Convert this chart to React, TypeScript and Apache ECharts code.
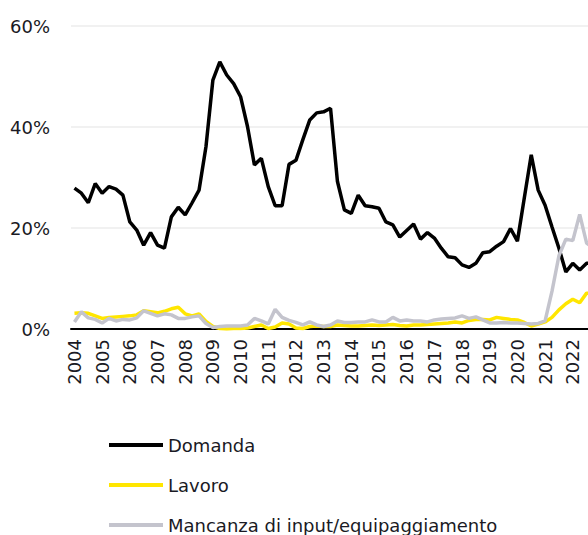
import React, { useEffect, useRef } from "react";
import * as echarts from "echarts";

const years: number[] = [];
for (let y = 2004; y <= 2022; y++) years.push(y);
const categories: string[] = [];
years.forEach((y) => ["Q1", "Q2", "Q3", "Q4"].forEach((q) => categories.push(`${y} ${q}`)));

const domanda = [
  27.9, 26.9, 25.0, 28.8, 26.9, 28.2, 27.7, 26.5, 21.2, 19.6, 16.6, 19.1, 16.6, 16.0, 22.2, 24.1,
  22.6, 25.0, 27.5, 36.1, 49.3, 52.9, 50.3, 48.6, 46.0, 40.1, 32.5, 33.8, 28.2, 24.4, 24.4, 32.6,
  33.4, 37.5, 41.4, 42.8, 43.0, 43.7, 29.2, 23.6, 22.9, 26.5, 24.4, 24.2, 23.9, 21.2, 20.6, 18.2,
  19.5, 20.8, 17.8, 19.1, 18.0, 16.0, 14.3, 14.1, 12.7, 12.2, 13.0, 15.1, 15.3, 16.4, 17.3, 19.9,
  17.4, 26.0, 34.5, 27.5, 24.5, 20.2, 16.0, 11.3, 13.0, 11.7, 13.0, 13.0,
];
const lavoro = [
  3.1, 3.2, 3.1, 2.6, 2.1, 2.3, 2.4, 2.5, 2.6, 2.8, 3.6, 3.4, 3.2, 3.5, 4.0, 4.3,
  3.0, 2.6, 3.0, 1.5, 0.5, 0.1, 0.0, 0.1, 0.1, 0.2, 0.5, 0.8, 0.1, 0.4, 1.2, 1.0,
  0.2, 0.1, 0.5, 0.6, 0.5, 0.5, 0.8, 0.7, 0.6, 0.6, 0.7, 0.8, 0.7, 0.8, 0.9, 0.7,
  0.6, 0.8, 0.8, 0.9, 1.0, 1.1, 1.2, 1.4, 1.2, 1.7, 1.9, 1.9, 1.8, 2.3, 2.1, 1.9,
  1.8, 1.3, 0.6, 1.0, 1.4, 2.3, 3.8, 5.0, 5.9, 5.2, 7.1, 7.0,
];
const mancanza = [
  1.4, 3.4, 2.2, 1.9, 1.2, 2.1, 1.6, 1.9, 1.8, 2.2, 3.6, 3.1, 2.6, 3.0, 2.8, 2.1,
  2.1, 2.4, 2.6, 1.1, 0.3, 0.5, 0.6, 0.6, 0.6, 0.8, 2.1, 1.6, 1.0, 3.9, 2.3, 1.7,
  1.3, 0.8, 1.4, 0.8, 0.5, 0.8, 1.6, 1.3, 1.3, 1.4, 1.4, 1.8, 1.4, 1.4, 2.3, 1.6,
  1.8, 1.6, 1.6, 1.4, 1.8, 2.0, 2.1, 2.2, 2.6, 2.1, 2.4, 1.8, 1.2, 1.2, 1.3, 1.2,
  1.2, 1.1, 1.0, 1.1, 1.6, 7.5, 14.5, 17.8, 17.5, 22.7, 17.0, 16.0,
];
const seriesNames = ["Domanda", "Lavoro", "Mancanza di input/equipaggiamento"];
const seriesColors = ["#000000", "#FFE600", "#C4C4CD"];
const yTicks = [0, 20, 40, 60];

const FONT = "DejaVu Sans";

export default function App() {
  const ref = useRef<HTMLDivElement>(null);
  useEffect(() => {
    if (!ref.current) return;
    const chart = echarts.init(ref.current, undefined, { renderer: "svg" });
    const data = [domanda, lavoro, mancanza];
    chart.setOption({
      animation: false,
      grid: { left: 71, top: 26, right: 23, bottom: 231, containLabel: false },
      legend: {
        orient: "vertical",
        left: 109,
        top: 435,
        padding: 0,
        icon: "rect",
        itemWidth: 54,
        itemHeight: 4,
        itemGap: 20,
        textStyle: { fontFamily: FONT, fontSize: 18, color: "#1a1a24", lineHeight: 20 },
        data: seriesNames,
      },
      xAxis: {
        type: "category",
        data: categories,
        boundaryGap: true,
        axisLine: { show: true, lineStyle: { color: "#000", width: 2 } },
        axisTick: { show: false },
        axisLabel: {
          interval: 3,
          rotate: 90,
          margin: 10,
          fontFamily: FONT,
          fontSize: 18,
          color: "#1a1a24",
          formatter: (v: string) => v.slice(0, 4),
        },
      },
      yAxis: {
        type: "value",
        min: yTicks[0],
        max: yTicks[yTicks.length - 1],
        interval: 20,
        axisLine: { show: false },
        axisTick: { show: false },
        splitLine: { lineStyle: { color: "#ececec", width: 1.5 } },
        axisLabel: {
          margin: 21,
          fontFamily: FONT,
          fontSize: 18,
          color: "#1a1a24",
          formatter: "{value}%",
        },
      },
      series: seriesNames.map((name, i) => ({
        name,
        type: "line",
        data: data[i],
        symbol: "none",
        showSymbol: false,
        lineStyle: { color: seriesColors[i], width: 3.5 },
        itemStyle: { color: seriesColors[i] },
      })),
    });
    return () => chart.dispose();
  }, []);
  return (
    <div style={{ position: "absolute", left: 0, top: 0, width: 588, height: 535, overflow: "hidden", background: "#fff" }}>
      <div ref={ref} style={{ width: 620, height: 560 }} />
    </div>
  );
}
